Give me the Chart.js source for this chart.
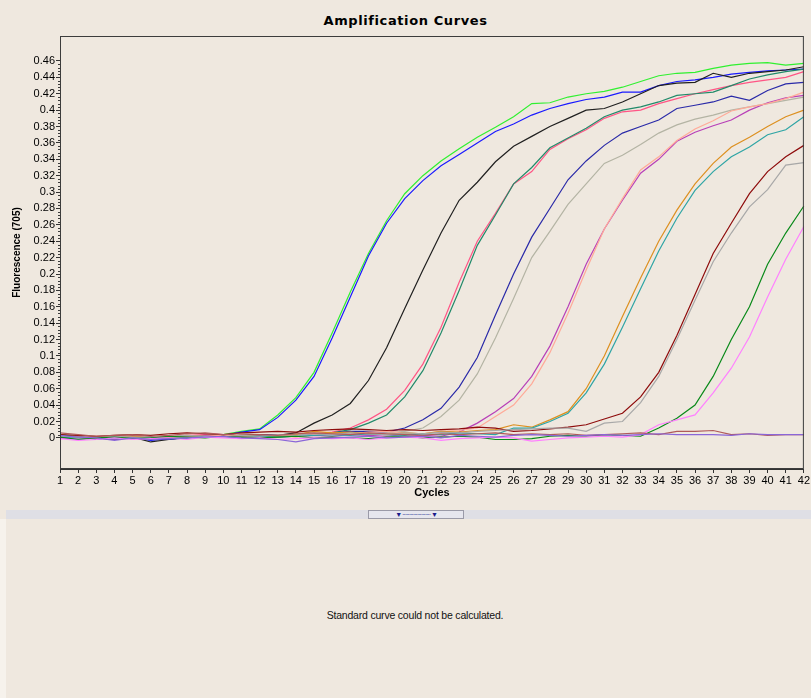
<!DOCTYPE html>
<html>
<head>
<meta charset="utf-8">
<title>Amplification Curves</title>
<script src="https://cdn.jsdelivr.net/npm/chart.js@4.4.1/dist/chart.umd.min.js"></script>
<style>
  html, body { margin: 0; padding: 0; }
  body { width: 811px; height: 698px; background: #efe8df; position: relative; overflow: hidden; font-family: "Liberation Sans", Arial, sans-serif; }
  #title { position: absolute; left: 0; top: 13px; width: 811px; text-align: center; font: bold 13px "DejaVu Sans", sans-serif; letter-spacing: 0.6px; color: #000; }
  #wrap { position: absolute; left: 0; top: 0; width: 811px; height: 505px; }
  #split { position: absolute; left: 6px; top: 510px; width: 805px; height: 9px; background: #dfdfe5; }
  #grip { position: absolute; left: 368px; top: 510px; width: 94px; height: 7px; border: 1px solid #9a9aa8; background: #e6e6ee; font-size: 7px; line-height: 7px; color: #1a1a8a; text-align: center; letter-spacing: -1px; }
  #strip { position: absolute; left: 0; top: 519px; width: 6px; height: 179px; background: #f6f2ec; }
  #msg { position: absolute; left: 0; top: 609px; width: 830px; text-align: center; font: 10.5px "Liberation Sans", sans-serif; letter-spacing: -0.2px; color: #111; }
</style>
</head>
<body>
<div id="title">Amplification Curves</div>
<div id="wrap"><canvas id="chart" width="811" height="505"></canvas></div>
<div id="split"></div>
<div id="grip">&#9660; &middot;&middot;&middot;&middot;&middot;&middot;&middot;&middot;&middot;&middot;&middot;&middot;&middot;&middot;&middot;&middot;&middot;&middot;&middot;&middot;&middot; &#9660;</div>
<div id="strip"></div>
<div id="msg">Standard curve could not be calculated.</div>
<script>
// cycles on the x axis
var cycles = [1,2,3,4,5,6,7,8,9,10,11,12,13,14,15,16,17,18,19,20,21,22,23,24,25,26,27,28,29,30,31,32,33,34,35,36,37,38,39,40,41,42];
var yTicks = [0,0.02,0.04,0.06,0.08,0.1,0.12,0.14,0.16,0.18,0.2,0.22,0.24,0.26,0.28,0.3,0.32,0.34,0.36,0.38,0.4,0.42,0.44,0.46];

// fluorescence per well
var green = [0.004,0.001,-0.001,0.000,0.001,-0.002,0.000,0.002,0.003,0.004,0.008,0.011,0.028,0.049,0.08,0.128,0.178,0.225,0.265,0.298,0.32,0.338,0.353,0.367,0.379,0.392,0.408,0.409,0.416,0.42,0.423,0.428,0.435,0.442,0.445,0.446,0.451,0.455,0.457,0.458,0.455,0.457];
var blue = [0.001,0.002,-0.002,0.001,0.000,-0.003,-0.001,0.001,0.002,0.003,0.007,0.010,0.025,0.046,0.075,0.122,0.172,0.222,0.262,0.292,0.314,0.332,0.346,0.36,0.374,0.383,0.394,0.402,0.408,0.413,0.416,0.422,0.422,0.43,0.435,0.437,0.44,0.444,0.446,0.448,0.449,0.45];
var black = [0.003,0.001,0.000,-0.002,0.001,-0.005,-0.002,0.001,0.003,0.002,0.003,0.004,0.003,0.006,0.018,0.028,0.042,0.07,0.11,0.158,0.205,0.25,0.29,0.312,0.337,0.356,0.368,0.38,0.39,0.4,0.402,0.41,0.42,0.43,0.433,0.434,0.445,0.44,0.445,0.447,0.449,0.453];
var pink = [0.002,0.000,0.001,-0.001,0.002,0.000,0.001,0.003,0.004,0.002,0.003,0.002,0.003,0.004,0.005,0.007,0.012,0.022,0.035,0.058,0.09,0.135,0.19,0.24,0.274,0.31,0.325,0.352,0.365,0.376,0.39,0.398,0.4,0.408,0.414,0.42,0.425,0.43,0.434,0.437,0.44,0.447];
var seaGreen = [0.003,0.001,-0.001,0.000,0.001,-0.001,0.000,0.002,0.002,0.001,0.002,0.003,0.002,0.003,0.004,0.006,0.010,0.018,0.028,0.05,0.082,0.128,0.18,0.235,0.272,0.31,0.33,0.354,0.366,0.378,0.392,0.4,0.404,0.41,0.418,0.42,0.422,0.43,0.438,0.443,0.447,0.45];
var navy = [0.000,-0.002,0.001,0.000,-0.001,0.001,-0.002,0.000,0.002,0.001,0.002,0.003,0.004,0.003,0.004,0.006,0.008,0.008,0.007,0.012,0.022,0.036,0.062,0.098,0.15,0.2,0.245,0.28,0.315,0.338,0.357,0.372,0.38,0.388,0.402,0.406,0.41,0.417,0.412,0.424,0.432,0.434];
var khaki = [0.002,0.000,-0.001,0.001,0.000,-0.002,0.000,0.001,0.001,0.003,0.002,0.001,0.002,0.004,0.003,0.005,0.006,0.004,0.006,0.008,0.012,0.026,0.046,0.078,0.122,0.17,0.22,0.252,0.285,0.31,0.335,0.345,0.358,0.372,0.382,0.389,0.394,0.4,0.404,0.408,0.412,0.416];
var magenta = [-0.001,0.001,0.000,-0.002,0.001,0.000,-0.001,0.002,0.003,0.001,0.002,0.000,0.001,0.002,0.003,0.002,0.004,0.003,0.002,0.004,0.003,0.002,0.007,0.018,0.032,0.048,0.075,0.112,0.16,0.212,0.255,0.29,0.323,0.34,0.362,0.373,0.381,0.388,0.4,0.409,0.415,0.418];
var salmon = [0.001,0.000,0.002,0.000,-0.001,0.001,0.000,0.001,0.002,0.003,0.001,0.002,0.003,0.001,0.004,0.006,0.005,0.007,0.008,0.006,0.005,0.008,0.009,0.012,0.026,0.04,0.066,0.104,0.152,0.205,0.255,0.292,0.327,0.343,0.363,0.377,0.387,0.399,0.404,0.408,0.414,0.422];
var orange = [0.002,0.001,-0.001,0.000,0.002,0.000,0.001,0.003,0.002,0.001,0.003,0.002,0.001,0.004,0.008,0.006,0.007,0.005,0.004,0.006,0.005,0.008,0.007,0.009,0.01,0.016,0.013,0.022,0.032,0.06,0.1,0.148,0.195,0.24,0.278,0.31,0.335,0.355,0.367,0.38,0.392,0.4];
var teal = [0.001,0.000,0.001,-0.001,0.000,0.001,-0.001,0.000,0.002,0.001,0.000,0.002,0.001,0.002,0.003,0.004,0.003,0.005,0.004,0.003,0.005,0.004,0.006,0.005,0.004,0.012,0.012,0.02,0.03,0.055,0.09,0.135,0.182,0.228,0.268,0.302,0.325,0.343,0.355,0.37,0.376,0.392];
var maroon = [0.004,0.003,0.002,0.003,0.004,0.003,0.005,0.006,0.005,0.004,0.006,0.007,0.008,0.007,0.009,0.01,0.011,0.01,0.009,0.01,0.009,0.01,0.011,0.013,0.012,0.008,0.009,0.011,0.013,0.016,0.023,0.03,0.05,0.08,0.125,0.175,0.225,0.262,0.298,0.325,0.343,0.357];
var grey = [0.002,0.001,0.000,0.002,0.001,0.000,0.002,0.003,0.002,0.001,0.003,0.002,0.004,0.003,0.005,0.004,0.006,0.005,0.004,0.006,0.005,0.007,0.006,0.008,0.009,0.01,0.011,0.012,0.012,0.008,0.018,0.02,0.043,0.075,0.12,0.168,0.215,0.25,0.282,0.303,0.333,0.336];
var darkGreen = [0.001,-0.002,0.000,0.001,-0.001,0.000,0.002,0.001,0.000,0.002,0.001,0.000,0.001,0.002,0.000,0.001,0.000,-0.001,0.001,0.002,0.000,0.001,0.002,0.001,-0.002,-0.002,-0.001,0.002,0.003,0.002,0.004,0.003,0.002,0.012,0.024,0.04,0.075,0.12,0.16,0.212,0.25,0.283];
var violet = [-0.001,-0.003,-0.002,0.000,-0.002,-0.001,0.000,-0.002,0.001,0.000,-0.001,0.000,-0.002,-0.001,0.000,-0.001,0.000,-0.002,0.000,0.001,0.000,-0.003,-0.001,0.000,0.001,0.000,-0.004,-0.002,0.000,0.001,0.002,0.001,0.004,0.016,0.022,0.028,0.055,0.085,0.123,0.172,0.218,0.258];
var purple = [0.003,0.001,0.000,-0.003,0.000,-0.002,-0.001,0.000,0.001,0.002,0.000,-0.001,-0.002,-0.005,-0.001,0.000,0.001,0.002,0.000,0.001,0.002,0.000,0.003,0.002,0.001,0.003,0.004,0.003,0.002,0.003,0.004,0.003,0.004,0.005,0.004,0.004,0.004,0.003,0.005,0.004,0.004,0.004];
var brown = [0.006,0.004,0.002,0.003,0.004,0.002,0.003,0.005,0.006,0.004,0.005,0.004,0.003,0.005,0.006,0.005,0.004,0.006,0.005,0.004,0.003,0.005,0.004,0.005,0.006,0.004,0.005,0.004,0.005,0.003,0.004,0.005,0.006,0.004,0.008,0.008,0.009,0.004,0.005,0.003,0.004,0.004];

var series = [
  [purple, '#8a66d8'], [brown, '#b05a5a'],
  [violet, '#ff80ff'], [darkGreen, '#0a8a1a'],
  [grey, '#a8a8a8'], [maroon, '#8e0c0c'],
  [teal, '#2fa5a5'], [orange, '#dd9020'],
  [salmon, '#ffaa98'], [magenta, '#b840b8'],
  [khaki, '#b4b4a4'], [navy, '#2a2aa8'],
  [seaGreen, '#228a6a'], [pink, '#ff5585'],
  [black, '#202020'], [blue, '#1a1aff'], [green, '#30f030']
];

var datasets = series.map(function(s) {
  return { data: s[0], borderColor: s[1], borderWidth: 1.2, pointRadius: 0, tension: 0, fill: false };
});

// plot frame and the small ticks on the y axis
var frame = {
  id: 'frame',
  afterDraw: function(chart) {
    var ctx = chart.ctx, a = chart.chartArea, y = chart.scales.y;
    ctx.save();
    ctx.strokeStyle = '#3c3c3c';
    ctx.lineWidth = 1;
    ctx.strokeRect(a.left + 0.5, a.top + 0.5, a.right - a.left - 1, a.bottom - a.top - 1);
    ctx.beginPath();
    for (var i = 1; i < 116; i++) {
      if (i % 5 === 0) continue;
      var py = Math.round(y.getPixelForValue(i * 0.004)) + 0.5;
      ctx.moveTo(a.left - 2, py);
      ctx.lineTo(a.left, py);
    }
    ctx.stroke();
    ctx.restore();
  }
};

new Chart(document.getElementById('chart'), {
  type: 'line',
  data: { labels: cycles, datasets: datasets },
  options: {
    responsive: false,
    animation: false,
    layout: { padding: { top: 36, right: 4, left: 0, bottom: 0 } },
    plugins: { legend: { display: false }, tooltip: { enabled: false } },
    scales: {
      x: {
        grid: { drawOnChartArea: false, drawTicks: true, tickLength: 4, color: '#333' },
        border: { color: '#333' },
        ticks: { autoSkip: false, maxRotation: 0, padding: 1, color: '#000', font: { family: 'Liberation Sans', size: 11 } },
        title: { display: true, text: 'Cycles', color: '#000', padding: { top: 0, bottom: 5 }, font: { family: 'Liberation Sans', size: 11, weight: 'bold' } },
        afterFit: function(scale) { scale.height = 36; }
      },
      y: {
        min: -0.038,
        max: 0.4905,
        afterBuildTicks: function(scale) { scale.ticks = yTicks.map(function(v) { return { value: v }; }); },
        grid: { drawOnChartArea: false, drawTicks: true, tickLength: 4, color: '#333' },
        border: { color: '#333' },
        ticks: {
          autoSkip: false, padding: 1, color: '#000',
          font: { family: 'Liberation Sans', size: 11 },
          callback: function(v) { return String(+(+v).toFixed(2)); }
        },
        title: { display: true, text: 'Fluorescence (705)', color: '#000', padding: { top: 11, bottom: 0 }, font: { family: 'Liberation Sans', size: 10, weight: 'bold' } },
        afterFit: function(scale) { scale.width = 60; }
      }
    }
  },
  plugins: [frame]
});
</script>
</body>
</html>
